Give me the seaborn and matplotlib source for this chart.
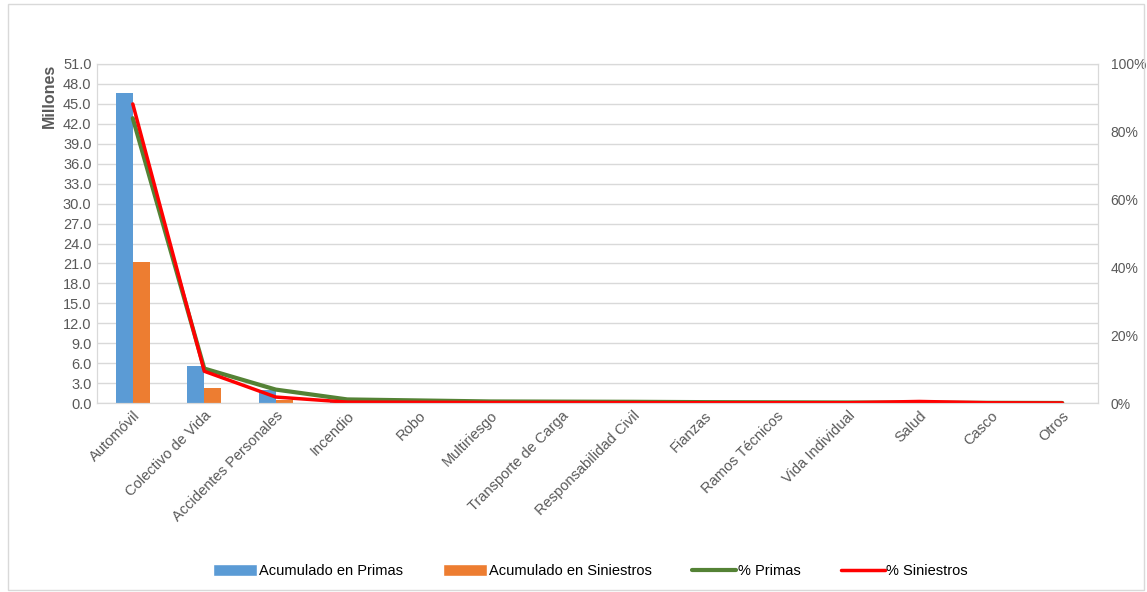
import pandas as pd
import seaborn as sns
import matplotlib.pyplot as plt
from matplotlib.patches import Patch, Rectangle
from matplotlib.lines import Line2D
from matplotlib.ticker import FuncFormatter

sns.set_style('white')
plt.rcParams['font.family'] = ['Liberation Sans', 'DejaVu Sans']

# Data
ramos = ['Automóvil', 'Colectivo de Vida', 'Accidentes Personales', 'Incendio',
         'Robo', 'Multiriesgo', 'Transporte de Carga', 'Responsabilidad Civil',
         'Fianzas', 'Ramos Técnicos', 'Vida Individual', 'Salud', 'Casco', 'Otros']
primas = [46.6, 5.6, 2.0, 0.5, 0.35, 0.25, 0.22, 0.2, 0.15, 0.12, 0.1, 0.08, 0.05, 0.03]
siniestros = [21.2, 2.3, 0.5, 0.08, 0.06, 0.05, 0.05, 0.04, 0.03, 0.03, 0.03, 0.12, 0.02, 0.01]
pct_primas = [84.0, 10.2, 4.0, 1.1, 0.8, 0.5, 0.45, 0.4, 0.3, 0.25, 0.2, 0.15, 0.1, 0.05]
pct_siniestros = [88.2, 9.4, 1.8, 0.3, 0.25, 0.2, 0.2, 0.15, 0.12, 0.12, 0.12, 0.5, 0.1, 0.05]

blue = '#5B9BD5'
orange = '#ED7D31'
green = '#548235'
red = '#FF0000'
gray = '#595959'

bars = pd.DataFrame({'Ramo': ramos * 2,
                     'Valor': primas + siniestros,
                     'Serie': ['Acumulado en Primas'] * len(ramos) + ['Acumulado en Siniestros'] * len(ramos)})
lines = pd.DataFrame({'Ramo': ramos, 'Primas': pct_primas, 'Siniestros': pct_siniestros})

fig = plt.figure(figsize=(11.47, 5.92), dpi=100)
ax = fig.add_axes([0.0846, 0.319, 0.8727, 0.573])

sns.barplot(data=bars, x='Ramo', y='Valor', hue='Serie', palette=[blue, orange],
            saturation=1, width=0.48, gap=0, linewidth=0, ax=ax, legend=False)
ax.set_ylim(0, 51)
ax.set_yticks([i * 3 for i in range(18)])
ax.yaxis.set_major_formatter(FuncFormatter(lambda v, p: f'{v:.1f}'))
ax.set_xlim(-0.5, len(ramos) - 0.5)
ax.grid(axis='y', color='#D9D9D9', linewidth=1)
ax.set_axisbelow(True)
ax.set_xlabel('')
ax.set_ylabel('Millones', fontsize=11.5, fontweight='bold', color=gray, labelpad=4, loc='top')
ax.tick_params(axis='both', labelsize=10.5, colors=gray, length=0, pad=4)
ax.set_xticks(range(len(ramos)))
ax.set_xticklabels(ramos, rotation=45, ha='right', rotation_mode='anchor')
for s in ax.spines.values():
    s.set_color('#D9D9D9')

ax2 = ax.twinx()
sns.lineplot(x=range(len(ramos)), y=lines['Primas'], color=green, linewidth=3, ax=ax2)
sns.lineplot(x=range(len(ramos)), y=lines['Siniestros'], color=red, linewidth=2.5, ax=ax2)
ax2.set_ylim(0, 100)
ax2.set_yticks(range(0, 101, 20))
ax2.yaxis.set_major_formatter(FuncFormatter(lambda v, p: f'{v:.0f}%'))
ax2.set_ylabel('')
ax2.tick_params(axis='y', labelsize=10, colors=gray, length=0, pad=9)
ax2.set_xlim(-0.5, len(ramos) - 0.5)
for s in ax2.spines.values():
    s.set_color('#D9D9D9')

handles = [Patch(facecolor=blue, label='Acumulado en Primas'),
           Patch(facecolor=orange, label='Acumulado en Siniestros'),
           Line2D([], [], color=green, linewidth=3, label='% Primas'),
           Line2D([], [], color=red, linewidth=2.5, label='% Siniestros')]
leg = fig.legend(handles=handles, loc='center', bbox_to_anchor=(0.515, 0.035), ncol=4,
                 frameon=False, fontsize=10.5, handlelength=3.0, handleheight=0.9,
                 handletextpad=0.1, columnspacing=2.8)
for t in leg.get_texts():
    t.set_color('black')

# outer chart border
fig.patches.append(Rectangle((0.007, 0.003), 0.99, 0.99, transform=fig.transFigure,
                             fill=False, edgecolor='#D9D9D9', linewidth=1))

fig.savefig('out.png', dpi=100)
